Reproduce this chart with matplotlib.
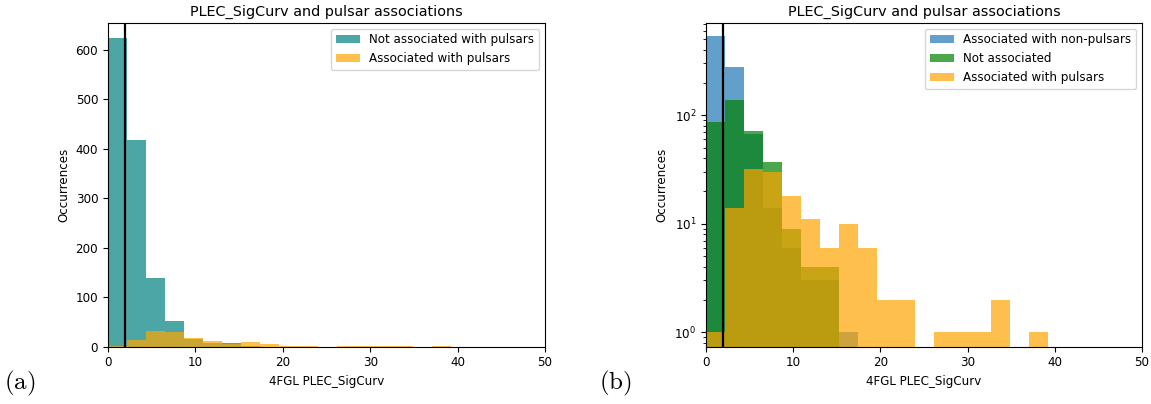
import numpy as np
import matplotlib
matplotlib.use("Agg")
import matplotlib.pyplot as plt

plt.rcParams["font.size"] = 8.6
plt.rcParams["mathtext.fontset"] = "cm"

# Histogram binning of PLEC_SigCurv (18 bins from 0 to ~39.2)
bin_width = 2.18
n_bins = 18
bin_edges = np.arange(n_bins + 1) * bin_width
bin_centers = 0.5 * (bin_edges[:-1] + bin_edges[1:])

# Counts per bin
non_pulsar_counts = [537, 280, 67, 14, 6, 3, 3, 1, 0, 0, 0, 0, 0, 0, 0, 0, 0, 0]
unassociated_counts = [87, 138, 71, 37, 9, 4, 4, 0, 0, 0, 0, 0, 0, 0, 0, 0, 0, 0]
pulsar_counts = [1, 14, 32, 30, 18, 11, 6, 10, 6, 2, 2, 0, 1, 1, 1, 2, 0, 1]
not_pulsar_counts = [a + b for a, b in zip(non_pulsar_counts, unassociated_counts)]

threshold = 2.0
title = "PLEC_SigCurv and pulsar associations"
xlabel = "4FGL PLEC_SigCurv"
ylabel = "Occurrences"

fig = plt.figure(figsize=(11.51, 4.04), dpi=100)
ax1 = fig.add_axes([0.0938, 0.1423, 0.3797, 0.8015])
ax2 = fig.add_axes([0.6134, 0.1423, 0.3788, 0.8015])

# Left: pulsars vs everything else
ax1.hist(bin_centers, bins=bin_edges, weights=not_pulsar_counts,
         color="teal", alpha=0.7, label="Not associated with pulsars")
ax1.hist(bin_centers, bins=bin_edges, weights=pulsar_counts,
         color="orange", alpha=0.7, label="Associated with pulsars")
ax1.axvline(threshold, color="black", lw=1.6)
ax1.set_xlim(0, 50)
ax1.set_title(title, fontsize=10.4, pad=5)
ax1.set_xlabel(xlabel)
ax1.set_ylabel(ylabel)
ax1.legend(loc="upper right", fontsize=8.6)

# Right: three association classes on a log scale
ax2.hist(bin_centers, bins=bin_edges, weights=non_pulsar_counts,
         color="C0", alpha=0.7, log=True, label="Associated with non-pulsars")
ax2.hist(bin_centers, bins=bin_edges, weights=unassociated_counts,
         color="green", alpha=0.7, log=True, label="Not associated")
ax2.hist(bin_centers, bins=bin_edges, weights=pulsar_counts,
         color="orange", alpha=0.7, log=True, label="Associated with pulsars")
ax2.axvline(threshold, color="black", lw=1.6)
ax2.set_xlim(0, 50)
ax2.set_ylim(0.738, 713)
ax2.set_title(title, fontsize=10.4, pad=5)
ax2.set_xlabel(xlabel)
ax2.set_ylabel(ylabel)
ax2.legend(loc="upper right", fontsize=8.6)

fig.text(0.0175, 0.052, r"$\mathrm{(a)}$", fontsize=18, ha="center", va="center")
fig.text(0.535, 0.052, r"$\mathrm{(b)}$", fontsize=18, ha="center", va="center")

fig.savefig("out.png", dpi=100)
